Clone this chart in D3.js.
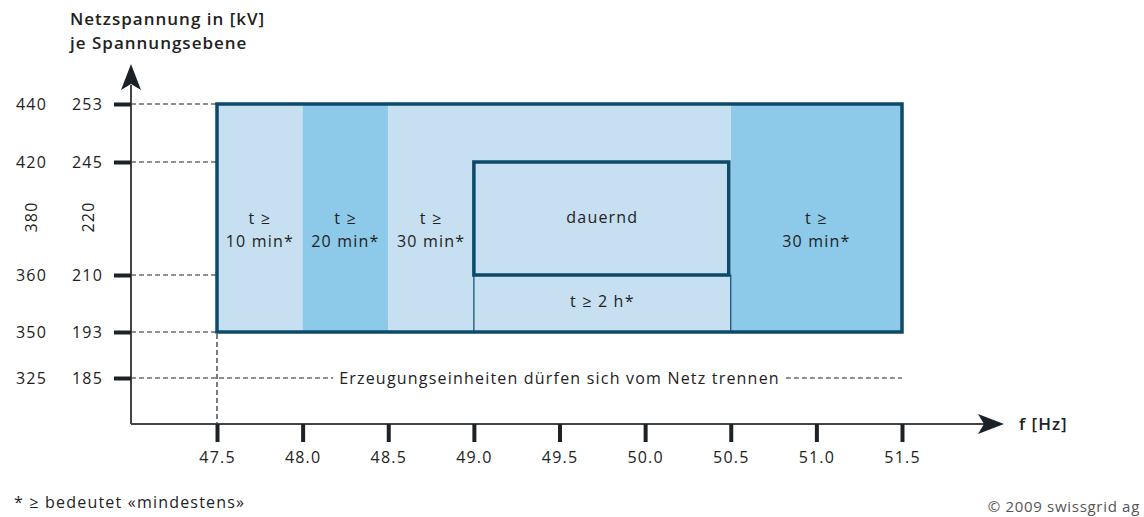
<!DOCTYPE html>
<html><head><meta charset="utf-8">
<script src="https://cdn.jsdelivr.net/npm/d3@7"></script>
<style>body{margin:0;background:#fff}svg{display:block;font-family:"Open Sans",sans-serif}</style>
</head><body><svg id="c" width="1144" height="517"></svg>
<script>
const freqTicks = [47.5, 48.0, 48.5, 49.0, 49.5, 50.0, 50.5, 51.0, 51.5];
const voltTicks = [253, 245, 210, 193, 185];
const voltLevel380 = [440, 420, 360, 350, 325];
const midLabel = {v220: 220, v380: 380};
const bandF0 = [47.5, 48.0, 48.5, 50.5];
const bandF1 = [48.0, 48.5, 50.5, 51.5];
const bandShade = ["light", "dark", "light", "dark"];
const bandLabel1 = ["t ≥", "t ≥", "t ≥", "t ≥"];
const bandLabel2 = ["10 min*", "20 min*", "30 min*", "30 min*"];
const bandLabelF = [47.75, 48.25, 48.75, 51.0];
const contF = [49.0, 50.5], contU = [210, 245];
const twoHF = [49.0, 50.5], twoHU = [193, 210];
const outerF = [47.5, 51.5], outerU = [193, 253];
const tripU = 185;

const svg = d3.select("#c");
const x = d3.scaleLinear().domain([47.5, 51.5]).range([217, 902]);
const y = d3.scaleLinear().domain([185, 193, 210, 245, 253]).range([378, 332, 275, 162, 104]);
const dark = "#0c4a69", light = "#c6dff1", mid = "#8dc9e8", ink = "#222";
const axX = 131, axY = 424;
const FS = 16, LS = 1.2;
function txt(sel) { return sel.attr("font-size", FS).attr("letter-spacing", LS).attr("fill", ink); }

bandF0.forEach((f, i) => {
  svg.append("rect").attr("x", x(f)).attr("y", y(outerU[1]))
    .attr("width", x(bandF1[i]) - x(f)).attr("height", y(outerU[0]) - y(outerU[1]))
    .attr("fill", bandShade[i] === "dark" ? mid : light);
});
svg.append("rect").attr("x", x(twoHF[0])).attr("y", y(twoHU[1]))
  .attr("width", x(twoHF[1]) - x(twoHF[0])).attr("height", y(twoHU[0]) - y(twoHU[1]))
  .attr("fill", "none").attr("stroke", dark).attr("stroke-width", 1.2);
svg.append("rect").attr("x", x(contF[0])).attr("y", y(contU[1]))
  .attr("width", x(contF[1]) - x(contF[0]) - 2).attr("height", y(contU[0]) - y(contU[1]))
  .attr("fill", "none").attr("stroke", dark).attr("stroke-width", 3.5);
svg.append("rect").attr("x", x(outerF[0])).attr("y", y(outerU[1]))
  .attr("width", x(outerF[1]) - x(outerF[0])).attr("height", y(outerU[0]) - y(outerU[1]))
  .attr("fill", "none").attr("stroke", dark).attr("stroke-width", 3.5);

const dash = s => s.attr("stroke", ink).attr("stroke-width", 1.2).attr("stroke-dasharray", "5,3");
voltTicks.filter(v => v !== tripU).forEach(v => {
  dash(svg.append("line").attr("x1", axX).attr("x2", x(47.5)).attr("y1", y(v)).attr("y2", y(v)));
});
dash(svg.append("line").attr("x1", x(47.5)).attr("x2", x(47.5)).attr("y1", y(193) + 2).attr("y2", axY));
const tripText = "Erzeugungseinheiten dürfen sich vom Netz trennen";
const tt = txt(svg.append("text")).attr("x", x(49.5)).attr("y", y(tripU)).attr("dy", "0.35em")
  .attr("text-anchor", "middle").text(tripText);
const bb = tt.node().getBBox();
dash(svg.append("line").attr("x1", axX).attr("x2", bb.x - 6).attr("y1", y(tripU)).attr("y2", y(tripU)));
dash(svg.append("line").attr("x1", bb.x + bb.width + 6).attr("x2", x(51.5)).attr("y1", y(tripU)).attr("y2", y(tripU)));

bandLabelF.forEach((f, i) => {
  txt(svg.append("text")).attr("x", x(f)).attr("y", 224).attr("text-anchor", "middle").text(bandLabel1[i]);
  txt(svg.append("text")).attr("x", x(f)).attr("y", 247).attr("text-anchor", "middle").text(bandLabel2[i]);
});
txt(svg.append("text")).attr("x", x(49.75)).attr("y", 223).attr("text-anchor", "middle").text("dauernd");
txt(svg.append("text")).attr("x", x(49.75)).attr("y", 307).attr("text-anchor", "middle").text("t ≥ 2 h*");

svg.append("line").attr("x1", axX).attr("x2", axX).attr("y1", axY).attr("y2", 85).attr("stroke", "#444").attr("stroke-width", 2);
svg.append("line").attr("x1", axX).attr("x2", 985).attr("y1", axY).attr("y2", axY).attr("stroke", "#444").attr("stroke-width", 2);
svg.append("path").attr("d", `M${axX},64 L${axX+10},90 L${axX},84 L${axX-10},90 Z`).attr("fill", "#1a2227");
svg.append("path").attr("d", `M1004,${axY} L978,${axY-10} L984,${axY} L978,${axY+10} Z`).attr("fill", "#1a2227");

const xAxis = d3.axisBottom(x).tickValues(freqTicks).tickFormat(d3.format(".1f")).tickSize(18).tickPadding(10);
const gx = svg.append("g").attr("transform", `translate(0,${axY})`).call(xAxis);
gx.select(".domain").remove();
gx.selectAll(".tick line").attr("stroke", "#1a2227").attr("stroke-width", 4);
gx.selectAll(".tick text").attr("font-size", FS).attr("letter-spacing", LS).attr("fill", ink).attr("font-family", "Open Sans");

const yAxis = d3.axisLeft(y).tickValues(voltTicks).tickSize(17).tickPadding(11).tickFormat(d3.format("d"));
const gy = svg.append("g").attr("transform", `translate(${axX},0)`).call(yAxis);
gy.select(".domain").remove();
gy.selectAll(".tick line").attr("stroke", "#1a2227").attr("stroke-width", 4);
gy.selectAll(".tick text").attr("font-size", FS).attr("letter-spacing", LS).attr("fill", ink).attr("font-family", "Open Sans");
voltTicks.forEach((v, i) => {
  txt(svg.append("text")).attr("x", 47).attr("y", y(v)).attr("dy", "0.35em").attr("text-anchor", "end").text(voltLevel380[i]);
});
txt(svg.append("text")).attr("transform", `translate(88,217) rotate(-90)`).attr("text-anchor", "middle").attr("dy", "0.35em").text(midLabel.v220);
txt(svg.append("text")).attr("transform", `translate(31,217) rotate(-90)`).attr("text-anchor", "middle").attr("dy", "0.35em").text(midLabel.v380);

const bold = s => s.attr("font-size", 17).attr("letter-spacing", 1).attr("font-weight", 600).attr("fill", ink);
bold(svg.append("text")).attr("x", 70).attr("y", 25).text("Netzspannung in [kV]");
bold(svg.append("text")).attr("x", 70).attr("y", 49).text("je Spannungsebene");
bold(svg.append("text")).attr("x", 1019).attr("y", axY).attr("dy", "0.35em").text("f [Hz]");
txt(svg.append("text")).attr("x", 14).attr("y", 508).text("* ≥ bedeutet «mindestens»");
svg.append("text").attr("x", 1140).attr("y", 512).attr("text-anchor", "end").attr("font-size", 15).attr("letter-spacing", 0.7).attr("fill", "#555").text("© 2009 swissgrid ag");
</script></body></html>
